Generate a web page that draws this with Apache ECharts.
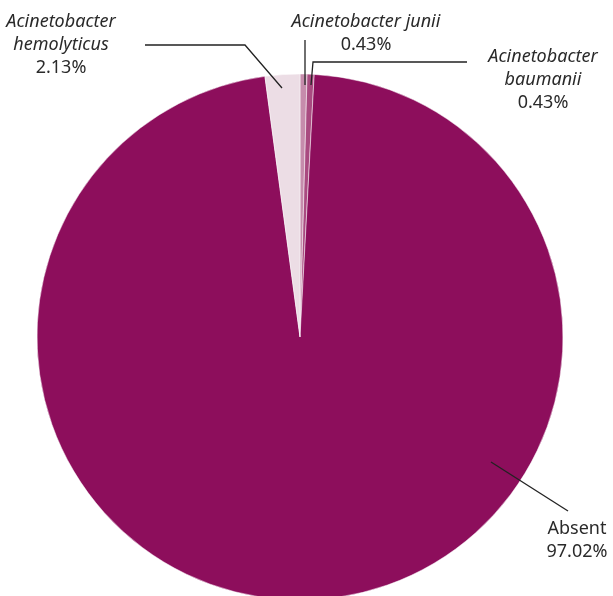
<!DOCTYPE html>
<html>
<head>
<meta charset="utf-8">
<script src="https://cdn.jsdelivr.net/npm/echarts@6/dist/echarts.min.js"></script>
<style>
  html, body { margin: 0; padding: 0; background: #fff; }
  #chart { width: 613px; height: 596px; }
</style>
</head>
<body>
<div id="chart"></div>
<script>
  // slices clockwise from the top
  const names = ['Acinetobacter junii', 'Acinetobacter baumanii', 'Absent', 'Acinetobacter hemolyticus']
  const labelNames = ['Acinetobacter junii', 'Acinetobacter\nbaumanii', 'Absent', 'Acinetobacter\nhemolyticus']
  const values = [0.43, 0.43, 97.02, 2.13]
  const colors = ['#c68cac', '#a94a80', '#8d0e5c', '#ecdde5']
  const italic = [true, true, false, true]

  // hand placed label spots and leader lines
  const labelSpots = [
    { x: 366, y: 33, points: [[305, 40], [305, 40], [305, 85]] },
    { x: 543, y: 80, points: [[467, 62], [313, 62], [311, 85]] },
    { x: 577, y: 540, points: [[568, 511], [568, 511], [491, 462]] },
    { x: 61, y: 45, points: [[145, 45], [245, 45], [282, 88]] }
  ]

  const chart = echarts.init(document.getElementById('chart'))

  const pieBase = {
    type: 'pie',
    center: [300, 337],
    radius: 263,
    startAngle: 90,
    clockwise: true
  }

  const textStyle = { fontFamily: 'Noto Sans', fontSize: 18, color: '#2a2a2a', lineHeight: 23 }

  chart.setOption({
    animation: false,
    series: [
      Object.assign({}, pieBase, {
        z: 2,
        itemStyle: { borderColor: '#fff', borderWidth: 0.5 },
        label: { show: false },
        labelLine: { show: false },
        data: names.map((n, i) => ({ name: n, value: values[i], itemStyle: { color: colors[i] } }))
      }),
      // transparent copy on top, so the leader lines sit over the slices
      Object.assign({}, pieBase, {
        z: 5,
        silent: true,
        itemStyle: { color: 'rgba(0,0,0,0)' },
        label: {
          show: true,
          position: 'outside',
          align: 'center',
          overflow: 'none',
          lineHeight: 23,
          rich: {
            it: Object.assign({ fontStyle: 'italic' }, textStyle),
            nm: textStyle
          }
        },
        labelLine: { show: true, lineStyle: { color: '#222', width: 1.3 } },
        labelLayout: function (p) {
          const s = labelSpots[p.dataIndex]
          return {
            x: s.x,
            y: s.y,
            align: 'center',
            verticalAlign: 'middle',
            labelLinePoints: s.points
          }
        },
        data: names.map((n, i) => ({
          name: n,
          value: values[i],
          label: {
            formatter: (italic[i]
              ? labelNames[i].split('\n').map(s => '{it|' + s + '}').join('\n')
              : '{nm|' + labelNames[i] + '}') + '\n{nm|' + values[i].toFixed(2) + '%}'
          }
        }))
      })
    ]
  })
</script>
</body>
</html>
